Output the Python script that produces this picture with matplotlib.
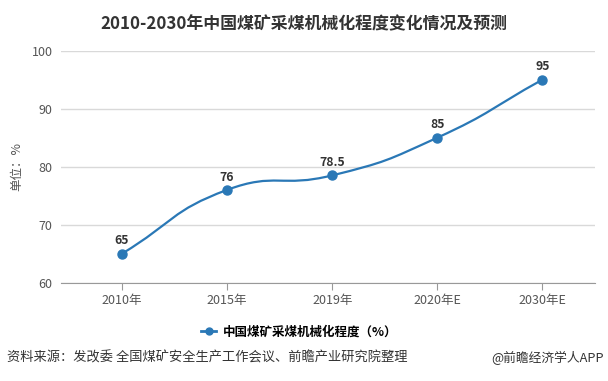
import numpy as np
import matplotlib.pyplot as plt
from matplotlib.path import Path
from matplotlib.patches import PathPatch
from matplotlib.lines import Line2D

plt.rcParams['font.family'] = ['Noto Sans CJK SC', 'DejaVu Sans']

title = '2010-2030年中国煤矿采煤机械化程度变化情况及预测'
years = ['2010年', '2015年', '2019年', '2020年E', '2030年E']
values = [65, 76, 78.5, 85, 95]
labels = ['65', '76', '78.5', '85', '95']
series_name = '中国煤矿采煤机械化程度（%）'
y_ticks = [60, 70, 80, 90, 100]
source = '资料来源：发改委 全国煤矿安全生产工作会议、前瞻产业研究院整理'
brand = '@前瞻经济学人APP'

blue = '#2a78b6'
grid_c = '#d9d9d9'
text_c = '#555555'

fig = plt.figure(figsize=(6.08, 3.81), dpi=100)
ax = fig.add_axes([0.1003, 0.258, 0.8783, 0.609])

x = np.arange(len(years))
y = np.array(values, dtype=float)

# smooth bezier like the web chart, computed in pixel-ish space
sx, sy = 105.0, 5.8
px, py = x * sx, y * sy
smooth = 0.5
verts = [(x[0], y[0])]
codes = [Path.MOVETO]
cps = []
for i in range(len(x)):
    prev = (px[max(i - 1, 0)], py[max(i - 1, 0)])
    nxt = (px[min(i + 1, len(x) - 1)], py[min(i + 1, len(x) - 1)])
    vx, vy = nxt[0] - prev[0], nxt[1] - prev[1]
    d0 = np.hypot(px[i] - prev[0], py[i] - prev[1])
    d1 = np.hypot(px[i] - nxt[0], py[i] - nxt[1])
    s = d0 + d1
    d0, d1 = d0 / s, d1 / s
    c0 = (px[i] - vx * smooth * d0, py[i] - vy * smooth * d0)
    c1 = (px[i] + vx * smooth * d1, py[i] + vy * smooth * d1)
    cps.append((c0, c1))
for i in range(len(x) - 1):
    a = cps[i][1]
    b = cps[i + 1][0]
    verts += [(a[0] / sx, a[1] / sy), (b[0] / sx, b[1] / sy), (x[i + 1], y[i + 1])]
    codes += [Path.CURVE4] * 3
ax.add_patch(PathPatch(Path(verts, codes), facecolor='none', edgecolor=blue, lw=1.6, zorder=3))
ax.plot(x, y, 'o', color=blue, ms=6.5, zorder=4)

for xi, yi, lb in zip(x, y, labels):
    ax.annotate(lb, (xi, yi), xytext=(0, 4.5), textcoords='offset points',
                ha='center', va='bottom', fontsize=8.8, fontweight='bold', color='#333333')

ax.set_xlim(-0.58, 4.5)
ax.set_ylim(60, 100)
ax.set_yticks(y_ticks)
ax.set_xticks(x)
ax.set_xticklabels(years)
ax.grid(axis='y', color=grid_c, lw=1)
ax.set_axisbelow(True)
for sp in ['top', 'right', 'left']:
    ax.spines[sp].set_visible(False)
ax.spines['bottom'].set_color('#999999')
ax.tick_params(axis='y', length=0, labelsize=9, colors=text_c, pad=6)
ax.tick_params(axis='x', length=5, color='#999999', labelsize=9, colors=text_c, pad=3)
ax.set_ylabel('单位：%', fontsize=9, color=text_c, labelpad=6)

fig.text(0.5, 0.937, title, ha='center', va='center', fontsize=12.2, fontweight='bold', color='#333333')

h = Line2D([], [], color=blue, lw=2, marker='o', ms=5)
fig.legend([h], [series_name], loc='center', bbox_to_anchor=(0.492, 0.129), frameon=False,
           prop={'size': 9, 'weight': 'bold'}, handlelength=1.2, handletextpad=0.5)

fig.text(0.012, 0.06, source, ha='left', va='center', fontsize=9.5, color='#333333')
fig.text(0.993, 0.06, brand, ha='right', va='center', fontsize=9.2, color='#333333')

fig.savefig('out.png', dpi=100)
